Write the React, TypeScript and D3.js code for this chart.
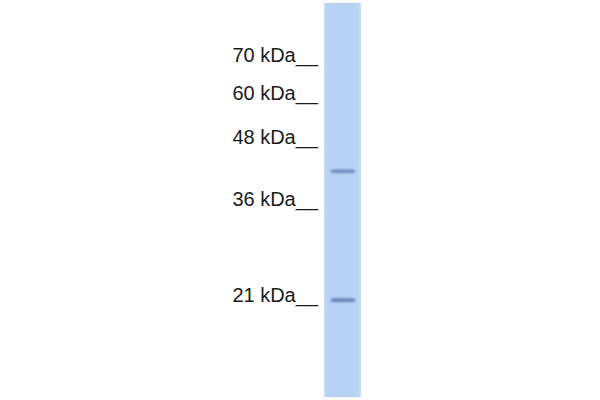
import React from 'react';
import * as d3 from 'd3';

// Molecular weight markers (kDa) and their relative migration (Rf, 0 = top of lane)
const markerKDa = [70, 60, 48, 36, 21];
const markerRf = [0.155, 0.251, 0.363, 0.52, 0.764];

// Detected bands: relative migration and intensity
const bandRf = [0.427, 0.754];
const bandIntensity = [0.72, 0.8];

const W = 600;
const H = 400;

export default function App() {
  const laneTop = 3;
  const laneBottom = 397;
  const laneX0 = 324;
  const laneX1 = 361;

  const y = d3.scaleLinear().domain([0, 1]).range([laneTop, laneBottom]);

  return (
    <svg
      width={W}
      height={H}
      style={{ position: 'absolute', left: 0, top: 0, display: 'block', background: '#ffffff' }}
    >
      <defs>
        <linearGradient id="lane-grad" x1="0" x2="1" y1="0" y2="0">
          <stop offset="0%" stopColor="#c9ddf8" />
          <stop offset="8%" stopColor="#b8d3f6" />
          <stop offset="50%" stopColor="#b6d1f5" />
          <stop offset="92%" stopColor="#b8d3f6" />
          <stop offset="100%" stopColor="#c9ddf8" />
        </linearGradient>
        <filter id="band-blur" x="-20%" y="-200%" width="140%" height="500%">
          <feGaussianBlur stdDeviation="1.4 1" />
        </filter>
      </defs>

      {/* Lane */}
      <rect
        x={laneX0}
        y={laneTop}
        width={laneX1 - laneX0}
        height={laneBottom - laneTop}
        fill="url(#lane-grad)"
      />

      {/* Bands */}
      {bandRf.map((r, i) => (
        <rect
          key={i}
          x={laneX0 + 7}
          y={y(r) - 1.8}
          width={laneX1 - laneX0 - 13}
          height={3.6}
          rx={1.5}
          fill="#526ea8"
          opacity={bandIntensity[i]}
          filter="url(#band-blur)"
        />
      ))}

      {/* Marker labels */}
      {markerKDa.map((k, i) => (
        <text
          key={k}
          x={318}
          y={y(markerRf[i]) - 2}
          textAnchor="end"
          fontFamily="'Liberation Sans', Arial, sans-serif"
          fontSize={20}
          fill="#1a1a1a"
        >
          {`${k} kDa__`}
        </text>
      ))}
    </svg>
  );
}
